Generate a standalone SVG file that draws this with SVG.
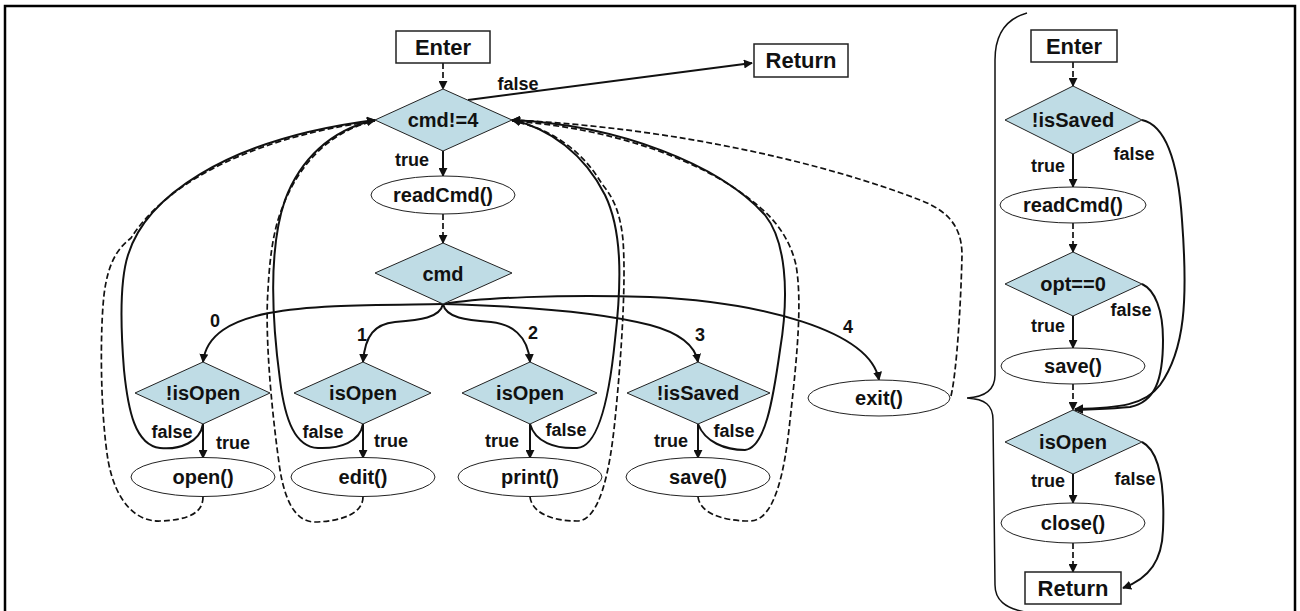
<svg xmlns="http://www.w3.org/2000/svg" width="1300" height="611" viewBox="0 0 1300 611">
<style>
text{font-family:"Liberation Sans",Arial,sans-serif;font-weight:bold;fill:#111;text-anchor:middle}
.nt{font-size:20px}
.bt{font-size:22px}
.lb{font-size:18px}
.dia{fill:#BFDCE5;stroke:#222;stroke-width:1}
.ell{fill:#fff;stroke:#222;stroke-width:1}
.box{fill:#fff;stroke:#222;stroke-width:1.5}
.s{fill:none;stroke:#111;stroke-width:2}
.d{fill:none;stroke:#111;stroke-width:1.7;stroke-dasharray:6 3}
</style>
<defs>
<marker id="ah" viewBox="0 0 10 10" refX="9" refY="5" markerWidth="9" markerHeight="9" markerUnits="userSpaceOnUse" orient="auto">
<path d="M0,0 L10,5 L0,10 z" fill="#111"/>
</marker>
</defs>
<rect x="5" y="6" width="1290" height="620" fill="none" stroke="#000" stroke-width="2.5"/>

<g id="connectors">
<path class="d" d="M443,63 L443,89" marker-end="url(#ah)"/>
<path class="s" d="M468,100 L752,63" marker-end="url(#ah)"/>
<path class="s" d="M443,151 L443,176" marker-end="url(#ah)"/>
<path class="d" d="M443,214 L443,243" marker-end="url(#ah)"/>
<path class="s" d="M443,304 C320,306 210,302 203,362" marker-end="url(#ah)"/>
<path class="s" d="M443,304 C440,318 420,320 395,322 C375,324 365,335 363,362" marker-end="url(#ah)"/>
<path class="s" d="M443,304 C446,318 466,320 491,322 C511,324 528,335 530,362" marker-end="url(#ah)"/>
<path class="s" d="M443,304 C520,306 600,312 650,325 C680,333 695,345 698,362" marker-end="url(#ah)"/>
<path class="s" d="M443,304 C480,298 560,294 650,297 C760,302 870,330 879,380" marker-end="url(#ah)"/>
<path class="s" d="M203,424 L203,458" marker-end="url(#ah)"/>
<path class="s" d="M363,424 L363,458" marker-end="url(#ah)"/>
<path class="s" d="M530,424 L530,458" marker-end="url(#ah)"/>
<path class="s" d="M698,424 L698,458" marker-end="url(#ah)"/>
<path class="s" d="M203,424 C200,442 180,450 160,448 C135,445 128,410 124,370 C120,320 120,280 128,255 C145,200 220,140 375,120" marker-end="url(#ah)"/>
<path class="s" d="M363,424 C360,442 340,449 318,448 C295,447 285,420 280,380 C272,320 268,250 285,200 C300,160 330,130 375,120" marker-end="url(#ah)"/>
<path class="s" d="M530,424 C535,442 555,449 577,448 C600,447 610,390 615,340 C622,280 622,230 605,195 C585,155 550,128 512,120" marker-end="url(#ah)"/>
<path class="s" d="M698,424 C705,442 725,450 745,450 C765,448 773,400 780,350 C790,290 785,240 765,215 C720,165 620,125 512,120" marker-end="url(#ah)"/>
<path class="d" d="M203,497 C203,512 190,520 160,521 C135,522 115,500 108,460 C100,410 100,330 104,295 C108,262 118,248 131,238 C160,192 235,140 375,121"/>
<path class="d" d="M363,497 C363,512 345,521 315,522 C295,522 285,500 280,470 C270,400 265,330 268,290 C270,250 275,225 283,206 C300,162 332,130 375,121"/>
<path class="d" d="M530,497 C532,512 550,521 577,521 C600,521 610,470 615,420 C622,350 626,280 623,240 C620,210 612,196 602,184 C582,150 550,128 512,121"/>
<path class="d" d="M698,497 C700,512 720,521 750,521 C775,521 785,470 790,420 C798,350 802,300 796,265 C789,235 771,215 752,201 C702,160 612,128 512,121"/>
<path class="d" d="M951,396 C957,370 961,300 962,255 C962,225 946,210 920,200 C830,165 680,128 512,120" marker-end="url(#ah)"/>
<path class="s" style="stroke-width:1.5" d="M1027,13 C1002,20 995,40 995,60 L995,375 C995,390 985,397 967,398 C985,399 993,405 993,420 L995,585 C995,600 1005,608 1025,612"/>
<path class="d" d="M1073,62 L1073,86" marker-end="url(#ah)"/>
<path class="s" d="M1073,154 L1073,187" marker-end="url(#ah)"/>
<path class="d" d="M1073,223 L1073,252" marker-end="url(#ah)"/>
<path class="s" d="M1073,316 L1073,348" marker-end="url(#ah)"/>
<path class="d" d="M1073,384 L1073,410" marker-end="url(#ah)"/>
<path class="s" d="M1073,474 L1073,503" marker-end="url(#ah)"/>
<path class="d" d="M1073,543 L1073,572" marker-end="url(#ah)"/>
<path class="s" d="M1142,120 C1165,125 1178,160 1182,220 C1188,300 1185,350 1160,385 C1145,405 1120,408 1075,409" marker-end="url(#ah)"/>
<path class="s" d="M1142,284 C1155,290 1163,310 1163,340 C1163,380 1155,402 1130,407 C1110,409 1090,409 1075,410" marker-end="url(#ah)"/>
<path class="s" d="M1142,442 C1158,450 1165,480 1163,530 C1162,560 1150,578 1123,588" marker-end="url(#ah)"/>
</g>

<g id="labels">
<text class="lb" x="518" y="90">false</text>
<text class="lb" x="412" y="166">true</text>
<text class="lb" x="215" y="327">0</text>
<text class="lb" x="362" y="341">1</text>
<text class="lb" x="533" y="339">2</text>
<text class="lb" x="700" y="341">3</text>
<text class="lb" x="848" y="333">4</text>
<text class="lb" x="172" y="438">false</text>
<text class="lb" x="233" y="449">true</text>
<text class="lb" x="323" y="438">false</text>
<text class="lb" x="391" y="447">true</text>
<text class="lb" x="502" y="447">true</text>
<text class="lb" x="566" y="436">false</text>
<text class="lb" x="671" y="447">true</text>
<text class="lb" x="734" y="437">false</text>
<text class="lb" x="1048" y="172">true</text>
<text class="lb" x="1134" y="160">false</text>
<text class="lb" x="1048" y="332">true</text>
<text class="lb" x="1131" y="316">false</text>
<text class="lb" x="1048" y="487">true</text>
<text class="lb" x="1135" y="485">false</text>
</g>

<g id="n-enter"><rect class="box" x="396" y="31" width="94" height="32"/><text class="bt" x="443" y="55">Enter</text></g>
<g id="n-return"><rect class="box" x="754" y="44" width="94" height="33"/><text class="bt" x="801" y="68">Return</text></g>
<g id="n-cmdne4"><polygon class="dia" points="443,89 512,120 443,151 375,120"/><text class="nt" x="443" y="127">cmd!=4</text></g>
<g id="n-readcmd"><ellipse class="ell" cx="443" cy="195" rx="72" ry="19"/><text class="nt" x="443" y="202">readCmd()</text></g>
<g id="n-cmd"><polygon class="dia" points="443,243 512,273 443,304 375,273"/><text class="nt" x="443" y="281">cmd</text></g>
<g id="n-notisopen"><polygon class="dia" points="203,362 270,393 203,424 135,393"/><text class="nt" x="203" y="400">!isOpen</text></g>
<g id="n-isopen1"><polygon class="dia" points="363,362 431,393 363,424 294,393"/><text class="nt" x="363" y="400">isOpen</text></g>
<g id="n-isopen2"><polygon class="dia" points="530,362 597,393 530,424 462,393"/><text class="nt" x="530" y="400">isOpen</text></g>
<g id="n-notissaved"><polygon class="dia" points="698,362 770,393 698,424 627,393"/><text class="nt" x="698" y="400">!isSaved</text></g>
<g id="n-open"><ellipse class="ell" cx="203" cy="477" rx="72" ry="19.5"/><text class="nt" x="203" y="484">open()</text></g>
<g id="n-edit"><ellipse class="ell" cx="363" cy="477" rx="72" ry="19.5"/><text class="nt" x="363" y="484">edit()</text></g>
<g id="n-print"><ellipse class="ell" cx="530" cy="477" rx="72" ry="19.5"/><text class="nt" x="530" y="484">print()</text></g>
<g id="n-save"><ellipse class="ell" cx="698" cy="477" rx="72" ry="19.5"/><text class="nt" x="698" y="484">save()</text></g>
<g id="n-exit"><ellipse class="ell" cx="879" cy="398" rx="71" ry="18"/><text class="nt" x="879" y="405">exit()</text></g>

<g id="r-enter"><rect class="box" x="1031" y="30" width="86" height="32"/><text class="bt" x="1074" y="54">Enter</text></g>
<g id="r-notissaved"><polygon class="dia" points="1073,86 1142,120 1073,154 1005,120"/><text class="nt" x="1073" y="127">!isSaved</text></g>
<g id="r-readcmd"><ellipse class="ell" cx="1073" cy="205" rx="73" ry="18"/><text class="nt" x="1073" y="212">readCmd()</text></g>
<g id="r-opt"><polygon class="dia" points="1073,252 1142,284 1073,316 1005,284"/><text class="nt" x="1073" y="291">opt==0</text></g>
<g id="r-save"><ellipse class="ell" cx="1073" cy="366" rx="72" ry="18"/><text class="nt" x="1073" y="373">save()</text></g>
<g id="r-isopen"><polygon class="dia" points="1073,410 1142,442 1073,474 1005,442"/><text class="nt" x="1073" y="449">isOpen</text></g>
<g id="r-close"><ellipse class="ell" cx="1073" cy="523" rx="72" ry="20"/><text class="nt" x="1073" y="530">close()</text></g>
<g id="r-return"><rect class="box" x="1025" y="572" width="96" height="32"/><text class="bt" x="1073" y="596">Return</text></g>
</svg>
